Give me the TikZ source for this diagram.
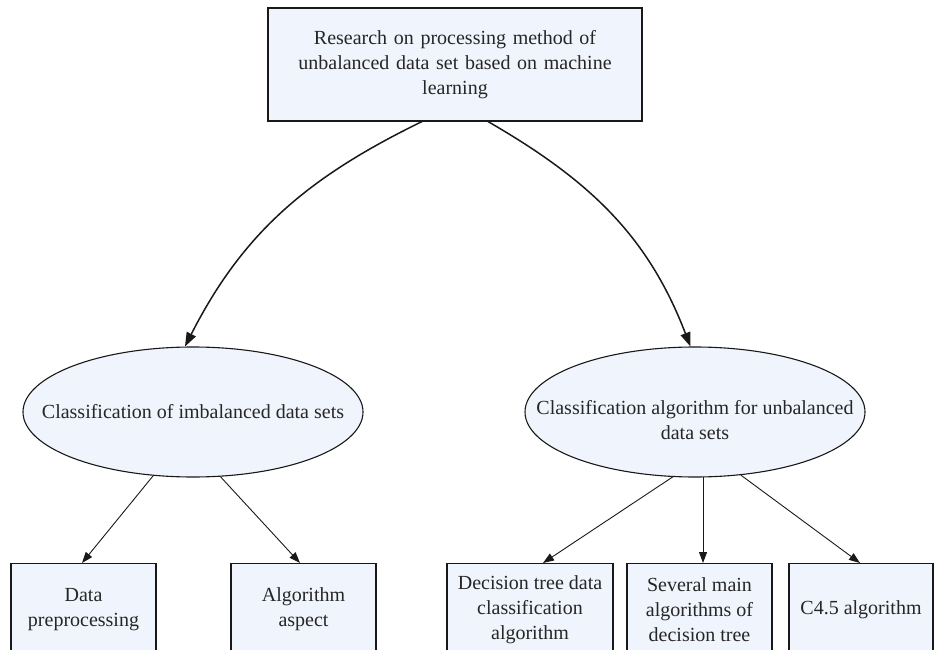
\documentclass[tikz,border=0pt]{standalone}
\usepackage{fontspec}
\newfontfamily\tnr{Liberation Serif}
\usetikzlibrary{shapes.geometric,arrows.meta,calc}
\definecolor{boxfill}{RGB}{240,244,252}
\definecolor{edge}{RGB}{25,25,25}
\tikzset{
  every node/.style={font=\tnr\fontsize{20}{25}\selectfont, text=black!85},
  tbox/.style={draw=edge, line width=1.1pt, fill=boxfill, rectangle, align=center, inner sep=0pt},
  ebox/.style={draw=edge, line width=1.1pt, fill=boxfill, ellipse, inner sep=0pt,
               minimum width=340pt, minimum height=130pt},
  etext/.style={align=center, inner sep=0pt},
  leaf/.style={tbox, minimum height=92pt, anchor=north},
  arr/.style={draw=edge, line width=0.9pt, -{Triangle[length=11pt,width=8pt]}},
  carr/.style={draw=edge, line width=1.5pt, -{Triangle[length=14pt,width=10pt]}}
}
\begin{document}
\begin{tikzpicture}[x=1pt,y=-1pt]
\useasboundingbox (0,0) rectangle (937,650);
\clip (0,0) rectangle (937,650);
\node[tbox, minimum width=374pt, minimum height=113pt, text width=360pt] (top) at (455,64.5)
  {Research on processing method of\\ unbalanced data set based on machine\\ learning};
\node[ebox] (e1) at (193,412) {};
\node[etext] (t1) at (193,412) {Classification of imbalanced data sets};
\node[ebox] (e2) at (695,412) {};
\node[etext] (t2) at (695,420) {Classification algorithm for unbalanced\\ data sets};
\node[leaf, minimum width=145pt] (b1) at (83.5,563) {Data\\ preprocessing};
\node[leaf, minimum width=145pt] (b2) at (303.5,563) {Algorithm\\ aspect};
\node[leaf, minimum width=166pt] (b3) at (530,563) {Decision tree data\\ classification\\ algorithm};
\node[leaf, minimum width=145pt] (b4) at (699.5,563) {Several main\\ algorithms of\\ decision tree};
\node[leaf, minimum width=144pt] (b5) at (861,563) {C4.5 algorithm};
\coordinate (tl) at ([xshift=-33pt]top.south);
\coordinate (tr) at ([xshift=33pt]top.south);
\draw[carr] (tl) to[out=206,in=63] (e1.97);
\draw[carr] (tr) to[out=-30,in=111] (e2.94);
\draw[arr] (e1.-122) -- ([xshift=-1.5pt]b1.north);
\draw[arr] (e1.-67) -- ([xshift=-3.5pt]b2.north);
\draw[arr] (e2.-109) -- ([xshift=13pt]b3.north);
\draw[arr] (e2.-83) -- (e2.-83 |- b4.north);
\draw[arr] (e2.-54.5) -- ([xshift=-1pt]b5.north);
\end{tikzpicture}
\end{document}
